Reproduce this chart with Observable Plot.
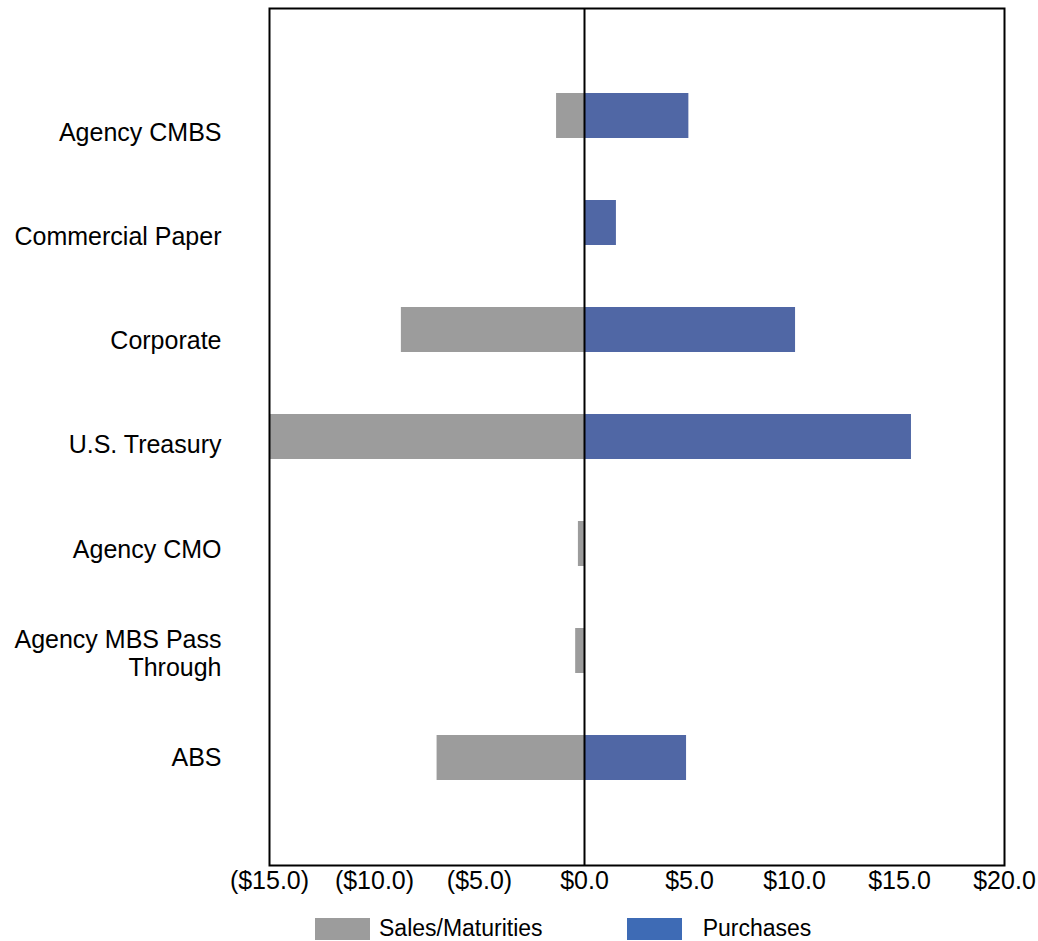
<!DOCTYPE html>
<html>
<head>
<meta charset="utf-8">
<script src="https://cdn.jsdelivr.net/npm/d3@7"></script>
<script src="https://cdn.jsdelivr.net/npm/@observablehq/plot@0.6"></script>
<style>
  html, body { margin: 0; padding: 0; background: #fff; }
  body { font-family: "Liberation Sans", Arial, sans-serif; width: 1038px; height: 941px; position: relative; }
  #chart { position: absolute; left: 0; top: 0; }
  .legend { position: absolute; top: 915px; left: 315px; display: flex; align-items: center; font-size: 23px; color: #000; }
  .legend .sw { width: 55px; height: 22px; display: inline-block; }
  .legend .item { display: flex; align-items: center; }
</style>
</head>
<body>
<div id="chart"></div>
<div class="legend">
  <span class="item"><span class="sw" style="background:#9c9c9c"></span><span style="margin-left:9px">Sales/Maturities</span></span>
  <span class="item" style="margin-left:84px"><span class="sw" style="background:#3e6bb5"></span><span style="margin-left:21px">Purchases</span></span>
</div>
<script>
// Net portfolio activity by security type, $ billions
const categories = [
  "Agency CMBS",
  "Commercial Paper",
  "Corporate",
  "U.S. Treasury",
  "Agency CMO",
  "Agency MBS Pass\nThrough",
  "ABS"
];
const salesMaturities = [-1.33, 0, -8.72, -15.0, -0.29, -0.42, -7.02];
const purchases = [4.97, 1.52, 10.05, 15.57, 0, 0, 4.86];
const xTicks = [-15, -10, -5, 0, 5, 10, 15, 20];

const rows = [];
categories.forEach((c, i) => {
  rows.push({category: c, series: "Sales/Maturities", value: salesMaturities[i]});
  rows.push({category: c, series: "Purchases", value: purchases[i]});
});

const fmt = v => v < 0 ? `($${(-v).toFixed(1)})` : `$${v.toFixed(1)}`;

// Category labels sit on a slightly tighter pitch than the bars,
// so each one gets its own small vertical nudge.
const labelAxes = categories.map((c, i) =>
  Plot.axisY({
    ticks: [c],
    tickSize: 0,
    tickPadding: 48,
    label: null,
    fontSize: 25,
    lineHeight: 1.12,
    dy: 16 - 2.85 * i
  })
);

const chart = Plot.plot({
  width: 1038,
  height: 907,
  marginLeft: 269,
  marginRight: 34,
  marginTop: 8,
  marginBottom: 42,
  style: {fontFamily: "'Liberation Sans', Arial, sans-serif", fontSize: "25px", color: "#000", background: "#fff"},
  x: {domain: [-15, 20], ticks: xTicks},
  y: {domain: categories, paddingInner: 0.58, paddingOuter: 0.79},
  color: {domain: ["Sales/Maturities", "Purchases"], range: ["#9c9c9c", "#5067a5"]},
  marks: [
    Plot.barX(rows, {x1: 0, x2: "value", y: "category", fill: "series"}),
    Plot.ruleX([0], {stroke: "#000", strokeWidth: 2}),
    Plot.frame({stroke: "#000", strokeWidth: 2}),
    Plot.axisX({ticks: xTicks, tickFormat: fmt, tickSize: 0, tickPadding: 6, label: null, fontSize: 25}),
    ...labelAxes
  ]
});
document.getElementById("chart").appendChild(chart);
</script>
</body>
</html>
